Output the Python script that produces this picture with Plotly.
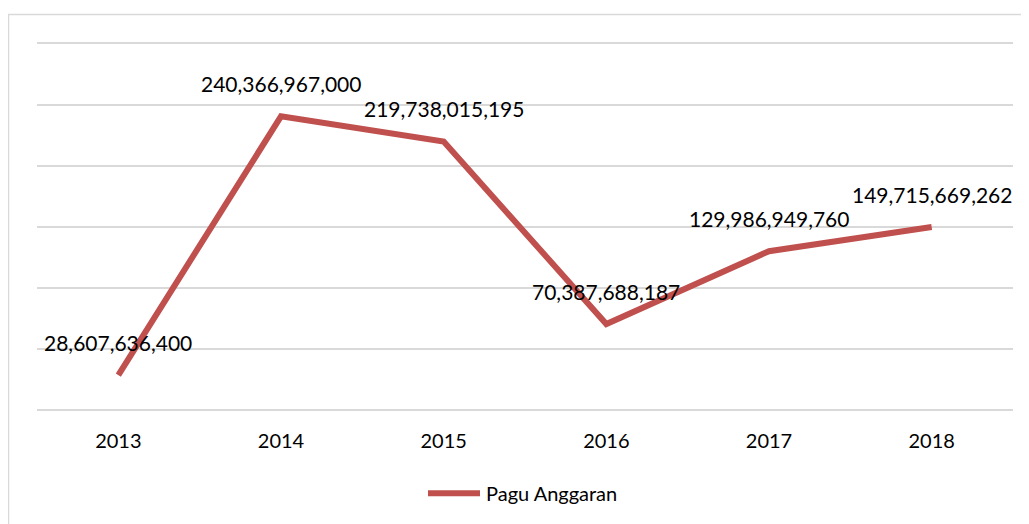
import plotly.graph_objects as go

years = ["2013", "2014", "2015", "2016", "2017", "2018"]
values = [28607636400, 240366967000, 219738015195, 70387688187, 129986949760, 149715669262]
labels = ["28,607,636,400", "240,366,967,000", "219,738,015,195", "70,387,688,187", "129,986,949,760", "149,715,669,262"]
grid_values = [0, 50e9, 100e9, 150e9, 200e9, 250e9, 300e9]
series_name = "Pagu Anggaran"

LINE_COLOR = "#C0504D"
GRID = "#D9D9D9"
FONT = "Lato"

# page has an 8px body margin; plot area target (page px): x 37..1013, y 43..410.5
W, H = 1021, 516
YMAX = 302e9
L, R, B = 29, 16, 113.5
PH = (410.5 - 43) * YMAX / 300e9
T = H - B - PH
PW = W - L - R

fig = go.Figure()
fig.add_trace(go.Scatter(
    x=list(range(len(years))), y=values, mode="lines", name=series_name,
    line=dict(color=LINE_COLOR, width=6), showlegend=False,
))

for i, (y, t) in enumerate(zip(values, labels)):
    fig.add_annotation(x=i, y=y, text=t, showarrow=False, yshift=33,
                       font=dict(family=FONT, size=21, color="#000000"))

# frame (page y=14 -> fig y=6)
fig.add_shape(type="rect", xref="paper", yref="paper",
              x0=-(L - 0.5) / PW, x1=1.2, y0=-0.6, y1=1 + (T - 6) / PH,
              line=dict(color=GRID, width=1.5), layer="below")

# custom legend
ly = -(494 - 410.5) / PH
fig.add_shape(type="line", xref="paper", yref="paper",
              x0=(428 - 37) / PW, x1=(480 - 37) / PW, y0=ly, y1=ly,
              line=dict(color=LINE_COLOR, width=6))
fig.add_annotation(xref="paper", yref="paper", x=(484 - 37) / PW, y=ly,
                   text=series_name, showarrow=False, xanchor="left", yanchor="middle",
                   font=dict(family=FONT, size=20, color="#000000"))

fig.update_xaxes(range=[-0.5, 5.5], tickmode="array", tickvals=list(range(len(years))),
                 ticktext=years, showgrid=False, showline=False, zeroline=False,
                 ticks="", ticklabelstandoff=17,
                 tickfont=dict(family=FONT, size=20, color="#000000"))
fig.update_yaxes(range=[0, YMAX], tickmode="array", tickvals=grid_values,
                 showgrid=True, gridcolor=GRID, gridwidth=1.5,
                 zeroline=True, zerolinecolor=GRID, zerolinewidth=1.5,
                 showticklabels=False, showline=False)

fig.update_layout(
    width=W, height=H,
    margin=dict(l=L, r=R, t=T, b=B, pad=0),
    paper_bgcolor="white", plot_bgcolor="white",
    font=dict(family=FONT),
)

fig.write_html("out.html")
